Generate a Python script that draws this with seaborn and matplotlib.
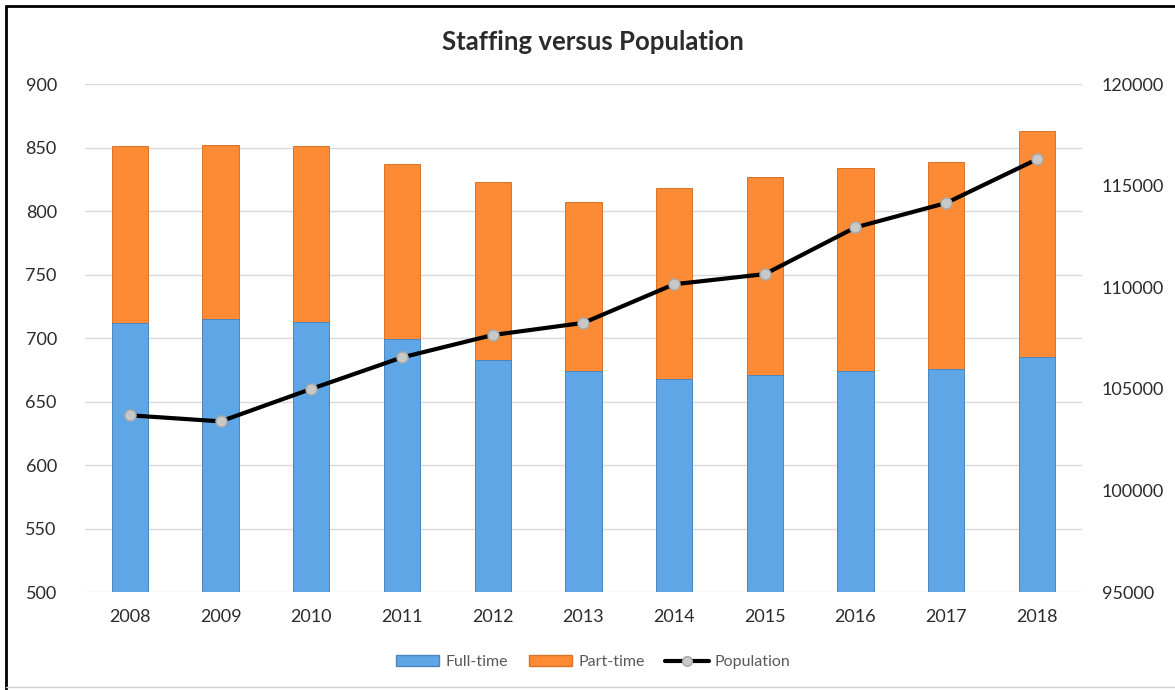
import matplotlib
matplotlib.use("Agg")
import matplotlib.pyplot as plt
from matplotlib.patches import Patch
from matplotlib.lines import Line2D
import seaborn as sns
import pandas as pd

# Staffing counts (left axis) and population (right axis) by year
years = ["2008", "2009", "2010", "2011", "2012", "2013", "2014", "2015", "2016", "2017", "2018"]
full_time = [712, 715, 713, 699, 683, 674, 668, 671, 674, 676, 685]
part_time = [139, 137, 138, 138, 140, 133, 150, 156, 160, 163, 178]
population = [103700, 103400, 105000, 106550, 107650, 108250, 110150, 110650, 112950, 114150, 116300]

left_ticks = [500, 550, 600, 650, 700, 750, 800, 850, 900]
right_ticks = [95000, 100000, 105000, 110000, 115000, 120000]

BLUE = "#5fa6e6"
BLUE_EDGE = "#4a86bd"
ORANGE = "#fd8a34"
ORANGE_EDGE = "#d9732a"
TEXT = "#2b2b2b"

df = pd.DataFrame({
    "year": years,
    "full": full_time,
    "total": [f + p for f, p in zip(full_time, part_time)],
    "population": population,
})

sns.set_theme(style="white")
plt.rcParams["font.family"] = ["Lato", "DejaVu Sans"]

fig = plt.figure(figsize=(11.75, 6.9), dpi=100)
ax = fig.add_axes([0.072, 0.142, 0.849, 0.736])

# Stacked bars: total (part-time on top) drawn first, full-time over it
sns.barplot(data=df, x="year", y="total", color=ORANGE, width=0.4,
            edgecolor=ORANGE_EDGE, linewidth=0.7, saturation=1, ax=ax)
sns.barplot(data=df, x="year", y="full", color=BLUE, width=0.4,
            edgecolor=BLUE_EDGE, linewidth=0.7, saturation=1, ax=ax)

ax.set_ylim(500, 900)
ax.set_yticks(left_ticks)
ax.set_xlim(-0.5, len(years) - 0.5)
ax.yaxis.grid(True, color="#d9d9d9", linewidth=1)
ax.set_axisbelow(True)
for s in ax.spines.values():
    s.set_visible(False)
ax.set_xlabel("")
ax.set_ylabel("")
ax.tick_params(axis="both", length=0, labelsize=13, labelcolor=TEXT)
ax.tick_params(axis="x", pad=12)
ax.tick_params(axis="y", pad=20)

ax2 = ax.twinx()
sns.lineplot(data=df, x="year", y="population", sort=False, color="black",
             linewidth=3, marker="o", markersize=8, markerfacecolor="#c8c8c8",
             markeredgecolor="#a8a8a8", markeredgewidth=1, ax=ax2)
ax2.set_ylim(95000, 120000)
ax2.set_yticks(right_ticks)
ax2.set_yticklabels([str(t) for t in right_ticks])
ax2.grid(False)
for s in ax2.spines.values():
    s.set_visible(False)
ax2.set_ylabel("")
ax2.set_xlabel("")
ax2.tick_params(axis="y", length=0, labelsize=13, labelcolor=TEXT, pad=14)

fig.text(0.505, 0.939, "Staffing versus Population", ha="center", va="center",
         fontsize=18.5, fontweight="bold", color="#2b2b2b")

handles = [
    Patch(facecolor=BLUE, edgecolor=BLUE_EDGE, label="Full-time"),
    Patch(facecolor=ORANGE, edgecolor=ORANGE_EDGE, label="Part-time"),
    Line2D([0], [0], color="black", linewidth=3, marker="o", markersize=7,
           markerfacecolor="#c8c8c8", markeredgecolor="#a8a8a8", label="Population"),
]
leg = fig.legend(handles=handles, loc="center", bbox_to_anchor=(0.505, 0.04), ncol=3,
                 frameon=False, fontsize=11.5, handlelength=2.7, handleheight=0.7,
                 columnspacing=1.3, handletextpad=0.4)
for t in leg.get_texts():
    t.set_color("#595959")

# Outer frame
fig.add_artist(Line2D([6 / 1175, 6 / 1175], [0, 1 - 6 / 690], color="black", linewidth=2,
                      transform=fig.transFigure))
fig.add_artist(Line2D([6 / 1175, 1], [1 - 6 / 690, 1 - 6 / 690], color="black", linewidth=2,
                      transform=fig.transFigure))
fig.add_artist(Line2D([6 / 1175, 1], [3 / 690, 3 / 690], color="#d0d0d0", linewidth=1,
                      transform=fig.transFigure))

fig.savefig("out.png", dpi=100)
